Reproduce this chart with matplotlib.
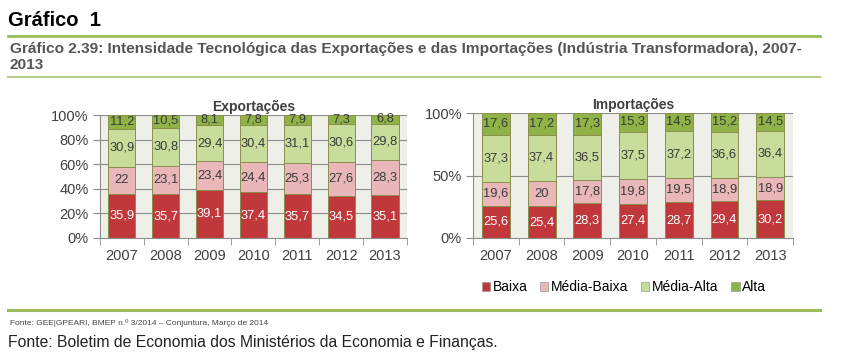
import matplotlib
matplotlib.use("Agg")
import matplotlib.pyplot as plt
from matplotlib.patches import Patch
from matplotlib.lines import Line2D
import numpy as np

plt.rcParams['font.family'] = ['Liberation Sans', 'DejaVu Sans']

anos = ['2007', '2008', '2009', '2010', '2011', '2012', '2013']
series = ['Baixa', 'Média-Baixa', 'Média-Alta', 'Alta']

# Exportações
exp_baixa = [35.9, 35.7, 39.1, 37.4, 35.7, 34.5, 35.1]
exp_mbaixa = [22, 23.1, 23.4, 24.4, 25.3, 27.6, 28.3]
exp_malta = [30.9, 30.8, 29.4, 30.4, 31.1, 30.6, 29.8]
exp_alta = [11.2, 10.5, 8.1, 7.8, 7.9, 7.3, 6.8]

# Importações
imp_baixa = [25.6, 25.4, 28.3, 27.4, 28.7, 29.4, 30.2]
imp_mbaixa = [19.6, 20, 17.8, 19.8, 19.5, 18.9, 18.9]
imp_malta = [37.3, 37.4, 36.5, 37.5, 37.2, 36.6, 36.4]
imp_alta = [17.6, 17.2, 17.3, 15.3, 14.5, 15.2, 14.5]

cores = ['#c0383c', '#e9b6b9', '#c8dd9c', '#8fb347']
cor_texto = ['white', '#3a3a3a', '#3a3a3a', '#3a3a3a']
fundo = '#efefea'


def fmt(v):
    s = ('%g' % v).replace('.', ',')
    return s


def desenha(ax, dados, titulo, yticks, ylabels, largura):
    x = np.arange(len(anos))
    base = np.zeros(len(anos))
    ax.set_facecolor(fundo)
    for k, vals in enumerate(dados):
        vals = np.array(vals, dtype=float)
        ax.bar(x, vals, largura, bottom=base, color=cores[k],
               edgecolor='#8a8f4a', linewidth=0.7, zorder=3)
        for i, v in enumerate(vals):
            yy = base[i] + v / 2
            if k == 3:
                yy = base[i] + v / 2 + 0.5
            ax.text(x[i], yy, fmt(v), ha='center', va='center',
                    fontsize=9.3, color=cor_texto[k], zorder=4)
        base += vals
    ax.set_xlim(-0.5, len(anos) - 0.5)
    ax.set_ylim(0, 100)
    ax.set_yticks(yticks)
    ax.set_yticklabels(ylabels, fontsize=10.5, color='#404040')
    ax.set_xticks(x)
    ax.set_xticklabels(anos, fontsize=10.5, color='#404040')
    ax.set_xticks(np.arange(-0.5, len(anos)), minor=True)
    ax.tick_params(axis='x', which='major', length=0, pad=8)
    ax.tick_params(axis='x', which='minor', length=5, color='#8c8c8c')
    ax.tick_params(axis='y', length=5, color='#8c8c8c', pad=3)
    for y in yticks[1:]:
        ax.axhline(y, color='#8c8c8c', linewidth=0.8, zorder=1)
    for s in ['top', 'right']:
        ax.spines[s].set_visible(False)
    for s in ['left', 'bottom']:
        ax.spines[s].set_color('#8c8c8c')
    ax.set_title(titulo, fontsize=10, fontweight='bold', color='#404040', pad=3)


fig = plt.figure(figsize=(8.54, 3.55), dpi=100)

ax1 = fig.add_axes([0.117, 0.3296, 0.3595, 0.346])
desenha(ax1, [exp_baixa, exp_mbaixa, exp_malta, exp_alta], 'Exportações',
        [0, 20, 40, 60, 80, 100], ['0%', '20%', '40%', '60%', '80%', '100%'], 0.62)

ax2 = fig.add_axes([0.5539, 0.3296, 0.3747, 0.352])
desenha(ax2, [imp_baixa, imp_mbaixa, imp_malta, imp_alta], 'Importações',
        [0, 50, 100], ['0%', '50%', '100%'], 0.61)

# títulos e linhas
fig.text(8 / 854, 1 - 20 / 355, 'Gráfico  1', fontsize=14.5, fontweight='bold',
         va='center', ha='left')
fig.text(10 / 854, 1 - 49 / 355,
         'Gráfico 2.39: Intensidade Tecnológica das Exportações e das Importações (Indústria Transformadora), 2007-',
         fontsize=11.1, fontweight='bold', color='#555555', va='center', ha='left')
fig.text(10 / 854, 1 - 65 / 355, '2013', fontsize=11.1, fontweight='bold',
         color='#555555', va='center', ha='left')

for yy, cor, lw in [(36, '#9bbb59', 2), (77, '#b5cc8a', 1.5), (310, '#9bbb59', 2.2)]:
    fig.add_artist(Line2D([8 / 854, 820 / 854], [1 - yy / 355, 1 - yy / 355],
                          color=cor, linewidth=lw))

handles = [Patch(facecolor=cores[k], edgecolor='#9a9a9a', linewidth=0.5) for k in range(4)]
fig.legend(handles, series, loc='center', bbox_to_anchor=(624 / 854, 1 - 287 / 355),
           ncol=4, frameon=False, fontsize=10, handlelength=0.6, handleheight=0.6,
           handletextpad=0.2, columnspacing=0.9)

fig.text(10 / 854, 1 - 323 / 355,
         'Fonte: GEE|GPEARI, BMEP n.º 3/2014 – Conjuntura, Março de 2014',
         fontsize=6, color='#444444', va='center', ha='left')
fig.text(8 / 854, 1 - 343 / 355,
         'Fonte: Boletim de Economia dos Ministérios da Economia e Finanças.',
         fontsize=11.3, color='#222222', va='center', ha='left')

fig.savefig('out.png', dpi=100)
